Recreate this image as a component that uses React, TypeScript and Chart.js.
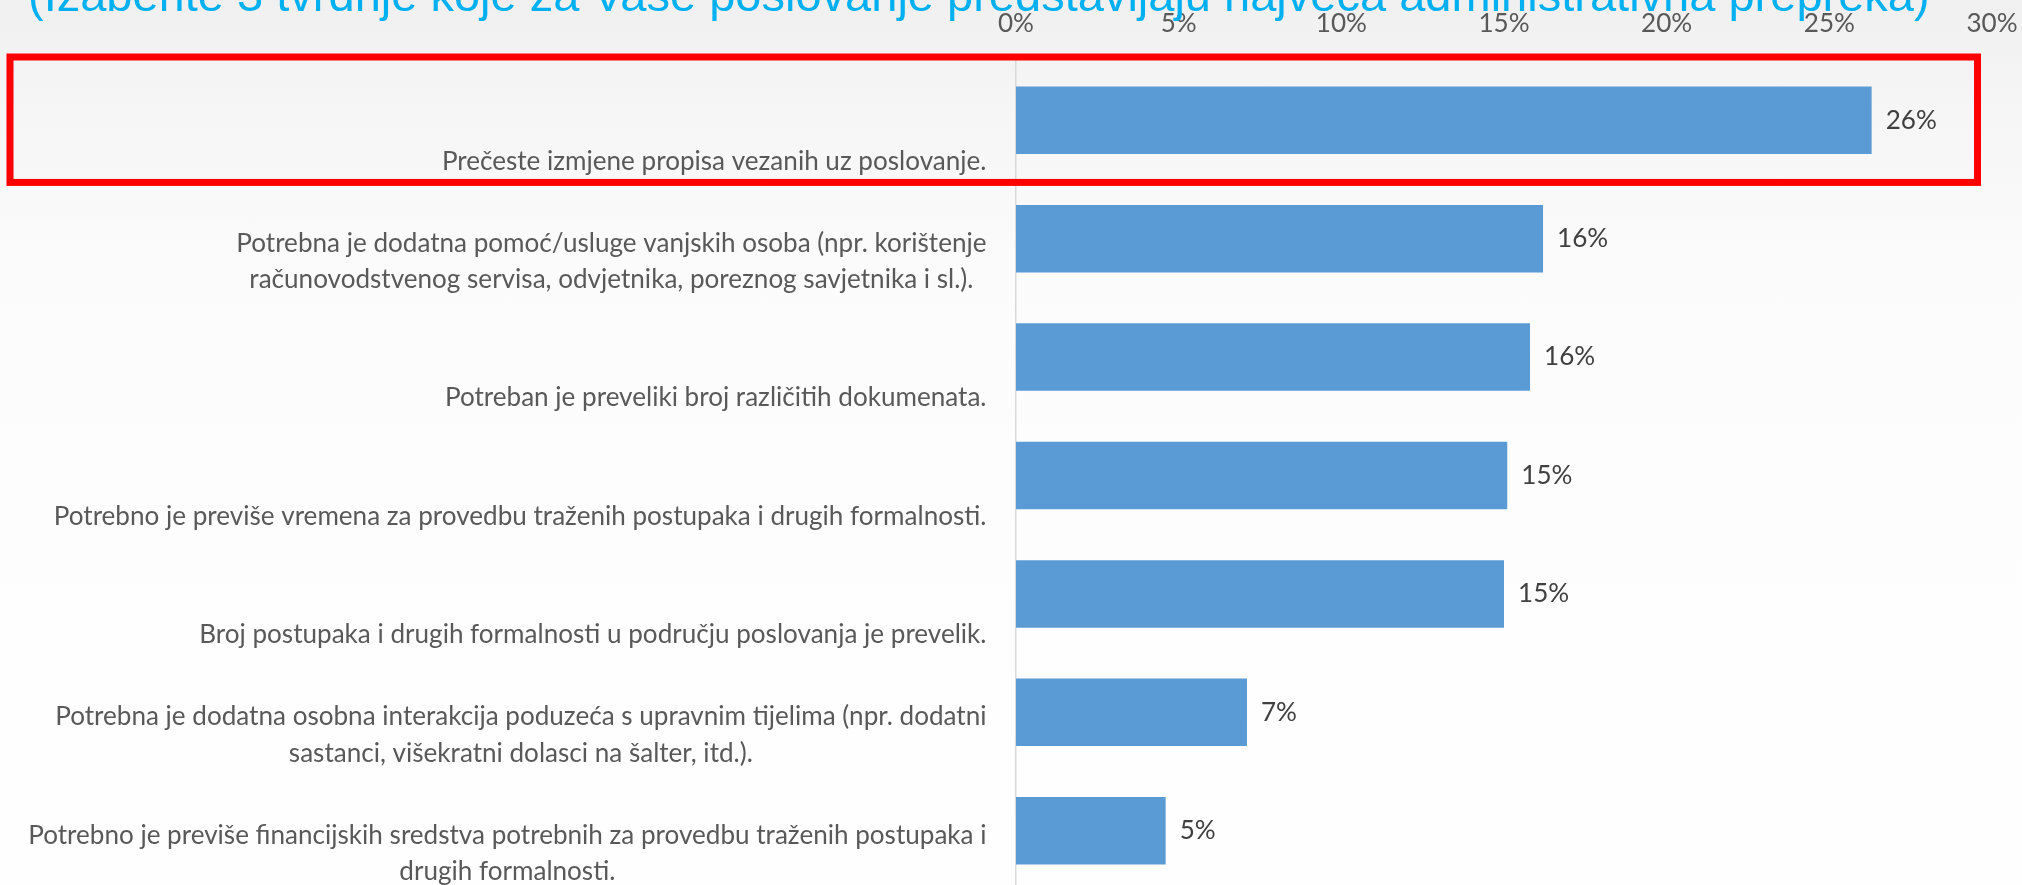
import React, { useEffect, useRef } from "react";
import { Chart, registerables } from "chart.js";

Chart.register(...registerables);

const titleText =
  "(Izaberite 3 tvrdnje koje za Vaše poslovanje predstavljaju najveća administrativna prepreka)";

const categories: string[][] = [
  ["Prečeste izmjene propisa vezanih uz poslovanje."],
  [
    "Potrebna je dodatna pomoć/usluge vanjskih osoba (npr. korištenje",
    "računovodstvenog servisa, odvjetnika, poreznog savjetnika i sl.).",
  ],
  ["Potreban je preveliki broj različitih dokumenata."],
  ["Potrebno je previše vremena za provedbu traženih postupaka i drugih formalnosti."],
  ["Broj postupaka i drugih formalnosti u području poslovanja je prevelik."],
  [
    "Potrebna je dodatna osobna interakcija poduzeća s upravnim tijelima (npr. dodatni",
    "sastanci, višekratni dolasci na šalter, itd.).",
  ],
  [
    "Potrebno je previše financijskih sredstva potrebnih za provedbu traženih postupaka i",
    "drugih formalnosti.",
  ],
];

const values: number[] = [26.3, 16.2, 15.8, 15.1, 15.0, 7.1, 4.6];

const xTickValues: number[] = [0, 5, 10, 15, 20, 25, 30];

function fitSize(text: string, font: string, target: number): number {
  const c = document.createElement("canvas").getContext("2d")!;
  c.font = `100px ${font}`;
  return (100 * target) / c.measureText(text).width;
}

export default function App() {
  const ref = useRef<HTMLCanvasElement | null>(null);

  useEffect(() => {
    document.body.style.margin = "0";
    document.documentElement.style.overflow = "hidden";
    document.body.style.overflow = "hidden";
    const canvas = ref.current!;
    const labelFont = "Lato, 'Open Sans', sans-serif";
    const titleFont = "'Liberation Sans', Arial, sans-serif";
    const labelSize = fitSize(categories[0][0], labelFont, 545);
    const titleSize = fitSize(titleText, titleFont, 1902);

    const overlay = {
      id: "overlay",
      afterDraw(chart: any) {
        const { ctx, chartArea, scales } = chart;
        const y = scales.y;
        ctx.save();
        // title (partially cut off at top)
        ctx.fillStyle = "#00B0F0";
        ctx.font = `${titleSize}px ${titleFont}`;
        ctx.textAlign = "left";
        ctx.textBaseline = "alphabetic";
        ctx.fillText(titleText, 28, 11);

        // category labels
        ctx.font = `${labelSize}px ${labelFont}`;
        ctx.fillStyle = "#595959";
        ctx.textBaseline = "middle";
        ctx.textAlign = "center";
        const right = chartArea.left - 29.5;
        categories.forEach((lines, i) => {
          const cy = y.getPixelForValue(i);
          const w = Math.max(...lines.map((l) => ctx.measureText(l).width));
          const cx = right - w / 2;
          const n = lines.length;
          lines.forEach((l, j) => {
            ctx.fillText(l, cx, cy + 41 - (n - 1 - j) * 36.5);
          });
        });

        // data labels
        const meta = chart.getDatasetMeta(0);
        ctx.fillStyle = "#404040";
        ctx.textAlign = "left";
        meta.data.forEach((bar: any, i: number) => {
          ctx.fillText(Math.round(values[i]) + "%", bar.x + 14, bar.y);
        });

        // red highlight frame around first category
        const c0 = y.getPixelForValue(0);
        const band = y.getPixelForValue(1) - c0;
        ctx.strokeStyle = "#FF0000";
        ctx.lineWidth = 7;
        ctx.strokeRect(10, c0 - band / 2 - 4, chartArea.right - 14.5 - 10, band + 7);
        ctx.restore();
      },
    };

    const chart = new Chart(canvas, {
      type: "bar",
      data: {
        labels: categories.map((c) => c.join(" ")),
        datasets: [
          {
            data: values,
            backgroundColor: "#5B9BD5",
            borderWidth: 0,
            barPercentage: 0.57,
            categoryPercentage: 1,
          },
        ],
      },
      options: {
        indexAxis: "y",
        responsive: false,
        animation: false,
        devicePixelRatio: 1,
        layout: { padding: { top: 0, right: 30, bottom: 0, left: 0 } },
        plugins: {
          legend: { display: false },
          tooltip: { enabled: false },
          title: { display: false },
        },
        scales: {
          x: {
            position: "top",
            min: 0,
            max: 30,
            afterBuildTicks: (scale: any) => {
              scale.ticks = xTickValues.map((v) => ({ value: v }));
            },
            ticks: {
              callback: (v: any) => `${v}%`,
              color: "#595959",
              font: { family: labelFont, size: labelSize },
              padding: 22,
              maxRotation: 0,
            },
            grid: { display: false, drawTicks: false },
            border: { display: false },
            afterFit: (scale: any) => {
              scale.height = 61;
              scale.paddingLeft = 0;
              scale.paddingRight = 0;
            },
          },
          y: {
            ticks: { display: false },
            grid: { display: false, drawTicks: false },
            border: { display: true, color: "#D9D9D9", width: 1.5 },
            afterFit: (scale: any) => {
              scale.width = 1016;
            },
          },
        },
      },
      plugins: [overlay],
    } as any);

    return () => chart.destroy();
  }, []);

  return (
    <div
      style={{
        width: 2022,
        height: 885,
        overflow: "hidden",
        background:
          "linear-gradient(to bottom, #F0F0F0 0px, #F6F6F6 120px, #FBFBFB 260px, #FDFDFD 450px, #FEFEFE 885px)",
      }}
    >
      <canvas ref={ref} width={2022} height={890} style={{ display: "block" }} />
    </div>
  );
}
